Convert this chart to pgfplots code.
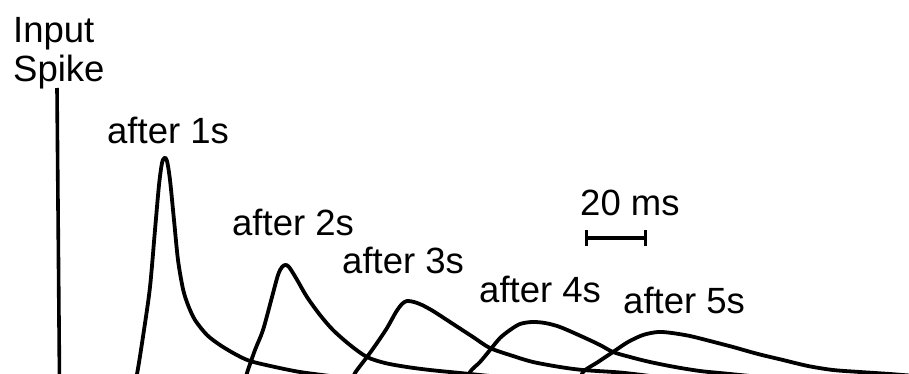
\documentclass[border=0pt]{standalone}
\usepackage{pgfplots}
\pgfplotsset{compat=1.18}
\usepackage{fontspec}
\setmainfont{Liberation Sans}
\begin{document}
\begin{tikzpicture}
\begin{axis}[
  at={(0,0)}, anchor=south west,
  width=909pt, height=374pt, scale only axis,
  xmin=0, xmax=909, ymin=0, ymax=374, y dir=reverse,
  hide axis, clip=true,
]
\addplot[black, line width=3.6pt] coordinates {(57,88) (59.5,380)};
\addplot[black, line width=3.8pt, smooth] coordinates {
(133,385)(137,374)(144,330)(150,287)(155,230)(159,185)(162,163)(164.5,158)(167,161)(170,180)(174,220)(178,260)(183,289)(188,305)(195,320)(207,335)(220,345)(235,354)(250,361)(275,367)(300,372)(330,376)};
\addplot[black, line width=3.8pt, smooth] coordinates {
(244,385)(247,373)(255,350)(263,330)(272,297)(278,275)(282,267)(285.5,265)(289,267)(296,278)(307,297)(320,315)(333,330)(350,345)(367,357)(385,363)(407,367)(430,370)(460,373)(490,376)};
\addplot[black, line width=3.8pt, smooth] coordinates {
(350,385)(355,373)(367,357)(377,343)(387,328)(396,312)(402,304)(407,301)(414,302)(422,305)(433,311)(450,322)(473,337)(490,348)(513,356)(533,362)(560,367)(583,370)(620,372.5)(650,376)};
\addplot[black, line width=3.8pt, smooth] coordinates {
(466,385)(470,372)(480,362)(490,350)(500,338)(510,330)(520,324)(532,322)(545,323)(560,327)(583,337)(600,345)(613,352)(630,357)(650,362)(675,367)(700,371)(725,373.5)(750,376)};
\addplot[black, line width=3.8pt, smooth] coordinates {
(579,385)(583,372)(598,362)(613,352)(628,342)(643,335)(658,332)(672,333)(690,336)(710,341)(733,347)(758,354)(783,360)(808,366)(833,370)(860,372)(890,374)(915,376)};
% scale bar
\addplot[black, line width=3.2pt] coordinates {(585,238) (647,238)};
\addplot[black, line width=3pt] coordinates {(586.5,230) (586.5,246)};
\addplot[black, line width=3pt] coordinates {(645.5,230) (645.5,246)};
\begin{scope}[every node/.style={anchor=base west, inner sep=0pt, font=\fontsize{36.5}{39}\selectfont}]
\node at (axis cs:13,43) {Input};
\node at (axis cs:13,82) {Spike};
\node at (axis cs:107,144) {after 1s};
\node at (axis cs:232,235) {after 2s};
\node at (axis cs:342,273) {after 3s};
\node at (axis cs:479,302) {after 4s};
\node at (axis cs:623,313) {after 5s};
\node at (axis cs:580,215) {20 ms};
\end{scope}
\end{axis}
\pgfresetboundingbox
\useasboundingbox (0,0) rectangle (909pt,374pt);
\end{tikzpicture}
\end{document}
